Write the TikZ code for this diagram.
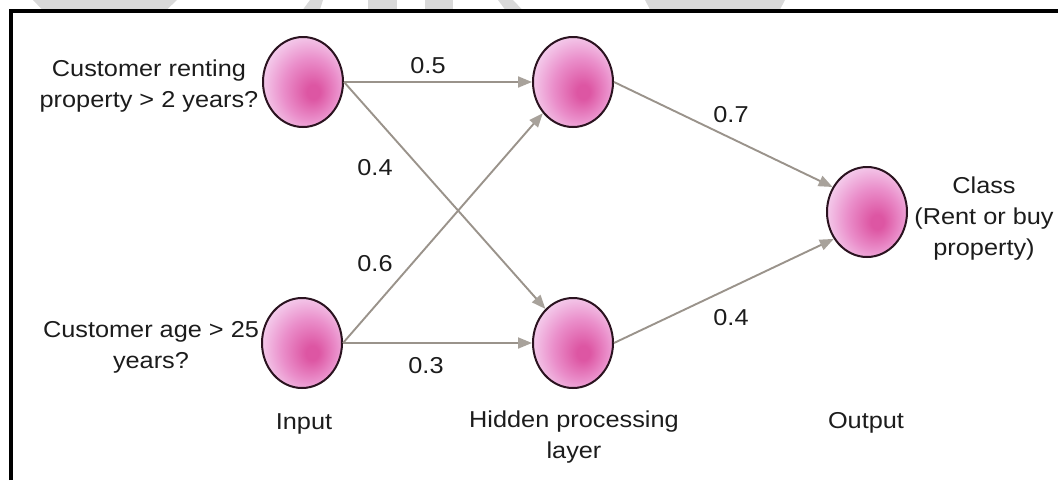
\documentclass[tikz,border=0pt]{standalone}
\usepackage{fontspec}
\setmainfont{Liberation Sans}[FakeStretch=1.1]
\usetikzlibrary{arrows.meta,shapes.geometric}
\definecolor{wmgray}{HTML}{D9D9D9}
\definecolor{edgegray}{HTML}{9A938B}
\definecolor{tipgray}{HTML}{A8A29B}
\definecolor{ballrim}{HTML}{2B1320}
\definecolor{balldark}{RGB}{221,86,163}
\definecolor{ballmid}{RGB}{234,142,202}
\definecolor{balllight}{RGB}{244,204,236}
\definecolor{inkgray}{HTML}{1C1C1C}
% pink neuron fill, darkest a little below and right of the centre
\pgfdeclareradialshading{pinkball}{\pgfpoint{7bp}{-6bp}}{color(0bp)=(balldark); color(4bp)=(balldark); color(17bp)=(ballmid); color(29bp)=(balllight); color(50bp)=(balllight)}

\begin{document}
\begin{tikzpicture}[x=1pt,y=-1pt,
  neuron/.style={ellipse, draw=ballrim, line width=2pt, minimum width=80pt,
    minimum height=90pt, inner sep=0pt, shading=pinkball},
  txt/.style={text=inkgray, font=\fontsize{23}{31}\selectfont, inner sep=0pt, align=center},
  link/.style={draw=edgegray, line width=1.9pt,
    -{Triangle[length=14pt,width=11pt,color=tipgray]}},
  wm/.style={fill=wmgray, draw=none}
]
\useasboundingbox (0,0) rectangle (1058,480);

% faint fragments along the upper edge
\fill[wm] (33,0) -- (177,0) -- (167,9.5) -- (42,9.5) -- cycle;
\fill[wm] (310,0) -- (323,0) -- (320,9.5) -- (303,9.5) -- cycle;
\fill[wm] (368,0) -- (397,0) -- (397,9.5) -- (368,9.5) -- cycle;
\fill[wm] (425,0) -- (453,0) -- (453,9.5) -- (425,9.5) -- cycle;
\fill[wm] (498,0) -- (513,0) -- (522,9.5) -- (505,9.5) -- cycle;
\fill[wm] (645,0) -- (785,0) -- (780,9.5) -- (650,9.5) -- cycle;

% frame
\draw[line width=3.5pt] (11,480) -- (11,11) -- (1058,11);

% neurons
\node[neuron] (in1) at (303,82) {};
\node[neuron] (in2) at (302,343) {};
\node[neuron] (hid1) at (573,82) {};
\node[neuron] (hid2) at (573,343) {};
\node[neuron] (out) at (867,212) {};

% weighted connections
\draw[link] (in1.east) -- (hid1.west);
\draw[link] (in1.east) -- (hid2.129);
\draw[link] (in2.east) -- (hid1.226);
\draw[link] (in2.east) -- (hid2.west);
\draw[link] (hid1.east) -- (out.144);
\draw[link] (hid2.east) -- (out.219);

% weights
\node[txt, anchor=base] (w1) at (428,73) {0.5};
\node[txt, anchor=base] (w2) at (375,175) {0.4};
\node[txt, anchor=base] (w3) at (375,271) {0.6};
\node[txt, anchor=base] (w4) at (426,373) {0.3};
\node[txt, anchor=base] (w5) at (731,122) {0.7};
\node[txt, anchor=base] (w6) at (731,325) {0.4};

% descriptions
\node[txt, anchor=north] (q1) at (149,60) {Customer renting\\property > 2 years?};
\node[txt, anchor=north] (q2) at (151,321.5) {Customer age > 25\\years?};
\node[txt, anchor=north] (cls) at (984,176.5) {Class\\(Rent or buy\\property)};

% layer captions
\node[txt, anchor=base] (lin) at (304,429) {Input};
\node[txt, anchor=north] (lhid) at (574,410.5) {Hidden processing\\layer};
\node[txt, anchor=base] (lout) at (866,428) {Output};
\end{tikzpicture}
\end{document}
